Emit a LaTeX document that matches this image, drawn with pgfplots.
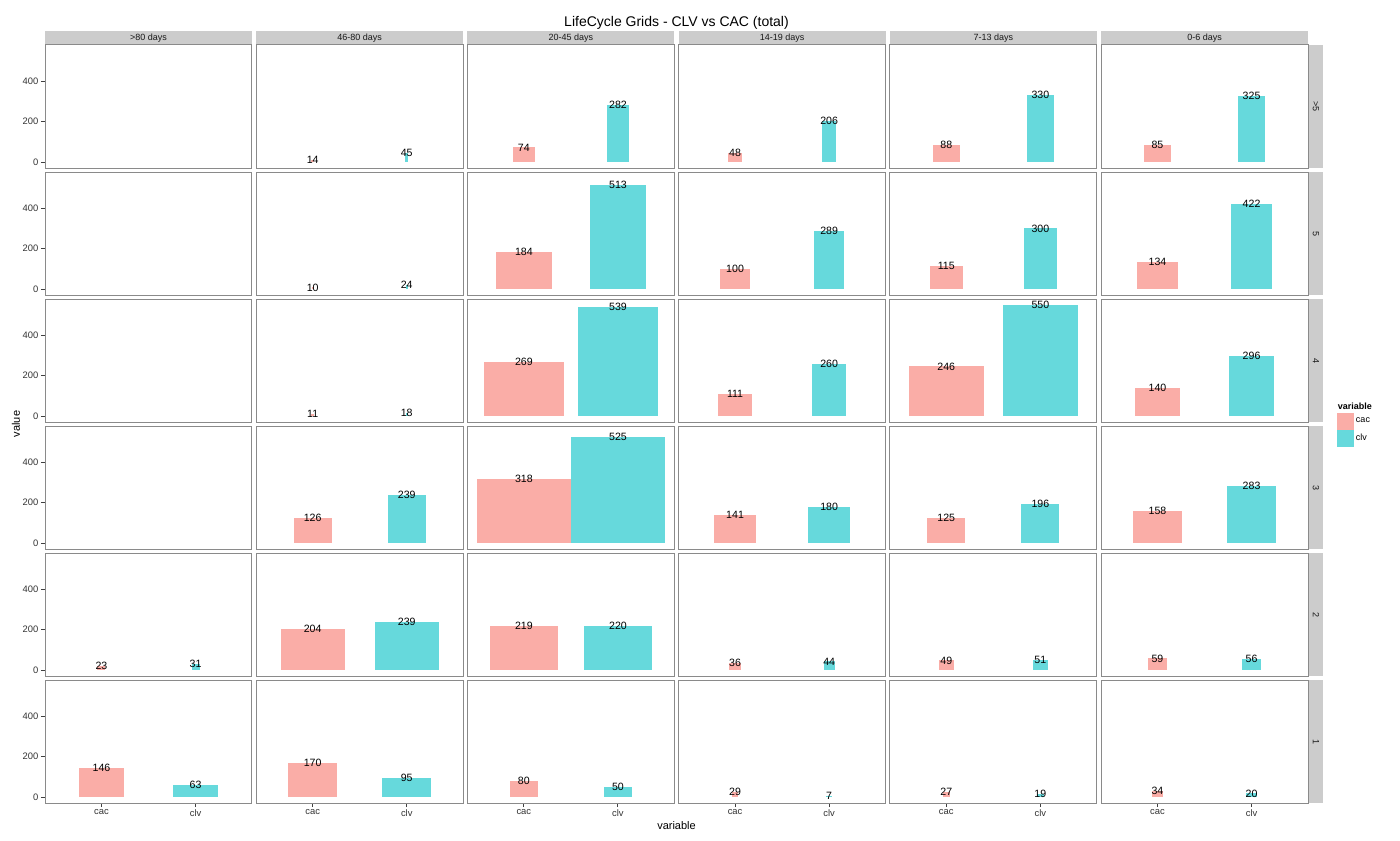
\documentclass[border=0pt]{standalone}
\usepackage{pgfplots}
\pgfplotsset{compat=1.18}
\usepackage{fontspec}
\setmainfont{Liberation Sans}
\definecolor{cacc}{HTML}{FAADA7}
\definecolor{clvc}{HTML}{66D9DC}
\definecolor{stripc}{HTML}{CCCCCC}
\definecolor{bord}{HTML}{8A8A8A}
\newcommand{\fs}[1]{\fontsize{#1}{#1}\selectfont}
\pgfplotsset{
 panel/.style={scale only axis, width=103.5pt, height=61.5pt, anchor=north west,
   xmin=-0.6, xmax=1.6, ymin=-27.5, ymax=577.5, xtick=\empty, ytick=\empty,
   axis line style={bord, line width=0.5pt}, tick align=outside, major tick length=2.1pt,
   tick style={black!75, line width=0.5pt}, xtick pos=bottom, ytick pos=left, clip=false,
   tick label style={font=\fs{4.7}, text=black!80, inner sep=1pt}},
 yt/.style={ytick={0,200,400}, yticklabels={0,200,400}},
 xt/.style={xtick={0,1}, xticklabels={cac,clv}},
 nt/.style={},
}
% #1 col, #2 row, #3 bar width, #4 cac, #5 clv, #6 axis options, #7 extra body
\newcommand{\panel}[7]{%
 \pgfmathsetmacro{\px}{(45+211.2*#1)*0.5}%
 \pgfmathsetmacro{\py}{-(45+127*#2)*0.5}%
 \begin{axis}[panel, at={(\px pt,\py pt)}, #6]
  \addplot[ybar, bar width=#3, bar shift=0pt, fill=cacc, draw=none] coordinates {(0,#4)};
  \addplot[ybar, bar width=#3, bar shift=0pt, fill=clvc, draw=none] coordinates {(1,#5)};
  \node[font=\fs{5.3}] at (axis cs:0,#4) {#4};
  \node[font=\fs{5.3}] at (axis cs:1,#5) {#5};
  #7
 \end{axis}}
\newcommand{\emptypanel}[3]{%
 \pgfmathsetmacro{\px}{(45+211.2*#1)*0.5}%
 \pgfmathsetmacro{\py}{-(45+127*#2)*0.5}%
 \begin{axis}[panel, at={(\px pt,\py pt)}, #3]
  \addplot[draw=none, forget plot] coordinates {(0,-100)};
 \end{axis}}
\begin{document}
\begin{tikzpicture}
\useasboundingbox (0,0) rectangle (700pt,-420pt);
\begin{scope}[x=0.5pt,y=-0.5pt]
 \foreach \lab [count=\i from 0] in {>80 days,46-80 days,20-45 days,14-19 days,7-13 days,0-6 days} {
   \fill[stripc] ({45+211.2*\i},31) rectangle ({45+211.2*\i+207},45);
   \node[font=\fs{4.5}, text=black!90] at ({45+211.2*\i+103.5},38.5) {\lab};
 }
 \foreach \lab [count=\j from 0] in {>5,5,4,3,2,1} {
   \fill[stripc] (1309,{45+127*\j}) rectangle (1323,{45+127*\j+123});
   \node[font=\fs{4.5}, text=black!90, rotate=-90] at (1316,{45+127*\j+61.5}) {\lab};
 }
 \node[font=\fs{7}] at (676.5,23) {LifeCycle Grids - CLV vs CAC (total)};
 \node[font=\fs{5.5}, rotate=90] at (16,424) {value};
 \node[font=\fs{5.5}] at (676.5,826) {variable};
\end{scope}
% row 0: >5
\emptypanel{0}{0}{yt}
\panel{1}{0}{0.03}{14}{45}{nt}{}
\panel{2}{0}{0.235}{74}{282}{nt}{}
\panel{3}{0}{0.15}{48}{206}{nt}{}
\panel{4}{0}{0.285}{88}{330}{nt}{}
\panel{5}{0}{0.28}{85}{325}{nt}{}
% row 1: 5
\emptypanel{0}{1}{yt}
\panel{1}{1}{0.02}{10}{24}{nt}{}
\panel{2}{1}{0.6}{184}{513}{nt}{}
\panel{3}{1}{0.32}{100}{289}{nt}{}
\panel{4}{1}{0.355}{115}{300}{nt}{}
\panel{5}{1}{0.44}{134}{422}{nt}{}
% row 2: 4
\emptypanel{0}{2}{yt}
\panel{1}{2}{0.025}{11}{18}{nt}{}
\panel{2}{2}{0.845}{269}{539}{nt}{}
\panel{3}{2}{0.365}{111}{260}{nt}{}
\panel{4}{2}{0.8}{246}{550}{nt}{}
\panel{5}{2}{0.48}{140}{296}{legend entries={cac,clv},
  legend image code/.code={\fill (0pt,-4.25pt) rectangle (8.5pt,4.25pt);},
  legend cell align=left,
  legend style={at={(1.14,0.075)}, anchor=north west, draw=none, fill=none,
   inner sep=0pt, row sep=0pt, font=\fs{4.5}, nodes={inner sep=0.8pt}}}{%
  \node[anchor=west, font=\fs{4.5}\bfseries, inner sep=0pt] at (rel axis cs:1.142,0.13) {variable};}
% row 3: 3
\emptypanel{0}{3}{yt}
\panel{1}{3}{0.405}{126}{239}{nt}{}
\panel{2}{3}{1.0}{318}{525}{nt}{}
\panel{3}{3}{0.44}{141}{180}{nt}{}
\panel{4}{3}{0.405}{125}{196}{nt}{}
\panel{5}{3}{0.525}{158}{283}{nt}{}
% row 4: 2
\panel{0}{4}{0.085}{23}{31}{yt}{}
\panel{1}{4}{0.68}{204}{239}{nt}{}
\panel{2}{4}{0.72}{219}{220}{nt}{}
\panel{3}{4}{0.12}{36}{44}{nt}{}
\panel{4}{4}{0.155}{49}{51}{nt}{}
\panel{5}{4}{0.2}{59}{56}{nt}{}
% row 5: 1
\panel{0}{5}{0.475}{146}{63}{yt,xt}{}
\panel{1}{5}{0.52}{170}{95}{xt}{}
\panel{2}{5}{0.295}{80}{50}{xt}{}
\panel{3}{5}{0.065}{29}{7}{xt}{}
\panel{4}{5}{0.075}{27}{19}{xt}{}
\panel{5}{5}{0.125}{34}{20}{xt}{}
\end{tikzpicture}
\end{document}
